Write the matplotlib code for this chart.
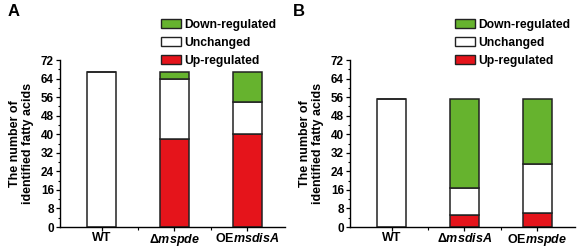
import matplotlib
matplotlib.use("Agg")
import matplotlib.pyplot as plt
from matplotlib.patches import Patch
from matplotlib.ticker import MultipleLocator

plt.rcParams['font.family'] = ['Liberation Sans', 'DejaVu Sans']
plt.rcParams['font.weight'] = 'bold'
plt.rcParams['mathtext.fontset'] = 'custom'
plt.rcParams['mathtext.rm'] = 'Liberation Sans:bold'
plt.rcParams['mathtext.it'] = 'Liberation Sans:bold:italic'
plt.rcParams['mathtext.bf'] = 'Liberation Sans:bold'

# Panel A data
cats_a = ['WT', r'$\Delta\mathit{mspde}$', r'OE$\mathit{msdisA}$']
up_a = [0, 38, 40]
unch_a = [67, 26, 14]
down_a = [0, 3, 13]

# Panel B data
cats_b = ['WT', r'$\Delta\mathit{msdisA}$', r'OE$\mathit{mspde}$']
up_b = [0, 5, 6]
unch_b = [55, 12, 21]
down_b = [0, 38, 28]

yticks = [0, 8, 16, 24, 32, 40, 48, 56, 64, 72]
green = '#66b32e'
red = '#e5141b'
edge = '#222222'

fig = plt.figure(figsize=(5.78, 2.47), dpi=100)
W, H = 578, 247

def make_panel(left_px, cats, up, unch, down, label, label_x, legend_x):
    ax = fig.add_axes([left_px / W, (H - 227) / H, 225 / W, (227 - 60) / H])
    x = list(range(len(cats)))
    bw = 0.4
    ax.bar(x, up, bw, color=red, edgecolor=edge, linewidth=1.1)
    b2 = [u for u in up]
    ax.bar(x, unch, bw, bottom=b2, color='white', edgecolor=edge, linewidth=1.1)
    b3 = [u + c for u, c in zip(up, unch)]
    ax.bar(x, down, bw, bottom=b3, color=green, edgecolor=edge, linewidth=1.1)
    ax.set_xlim(-0.57, 2.52)
    ax.set_ylim(0, 72)
    ax.set_yticks(yticks)
    ax.yaxis.set_minor_locator(MultipleLocator(4))
    ax.set_xticks(x)
    ax.set_xticks([0.5, 1.5], minor=True)
    ax.set_xticklabels(cats, fontsize=9, fontweight='bold')
    for t in ax.get_yticklabels():
        t.set_fontsize(8.5)
        t.set_fontweight('bold')
    ax.tick_params(axis='x', which='major', direction='out', length=3, width=0.9, pad=0.5)
    ax.tick_params(axis='y', which='major', direction='out', length=3, width=0.9, pad=1.5)
    ax.tick_params(axis='both', which='minor', direction='out', length=1.8, width=0.8)
    for s in ['top', 'right']:
        ax.spines[s].set_visible(False)
    for s in ['left', 'bottom']:
        ax.spines[s].set_linewidth(1.0)
    ax.set_ylabel('The number of\nidentified fatty acids', fontsize=9, fontweight='bold',
                  linespacing=1.1)
    ax.yaxis.set_label_coords(-0.115, 0.5)
    fig.text(label_x / W, 1 - 4 / H, label, fontsize=12, fontweight='bold', va='top', ha='left')
    handles = [Patch(facecolor=green, edgecolor=edge, linewidth=1.0),
               Patch(facecolor='white', edgecolor=edge, linewidth=1.0),
               Patch(facecolor=red, edgecolor=edge, linewidth=1.0)]
    ax.legend(handles, ['Down-regulated', 'Unchanged', 'Up-regulated'],
              loc='upper left', bbox_to_anchor=(legend_x / W, 1 - 19 / H),
              bbox_transform=fig.transFigure, frameon=False, borderpad=0,
              borderaxespad=0, handlelength=1.65, handleheight=0.75,
              handletextpad=0.3, labelspacing=0.5,
              prop={'size': 8.7, 'weight': 'bold'})
    return ax

make_panel(60, cats_a, up_a, unch_a, down_a, 'A', 8, 161)
make_panel(350, cats_b, up_b, unch_b, down_b, 'B', 293, 455)

fig.savefig('out.png', dpi=100)
